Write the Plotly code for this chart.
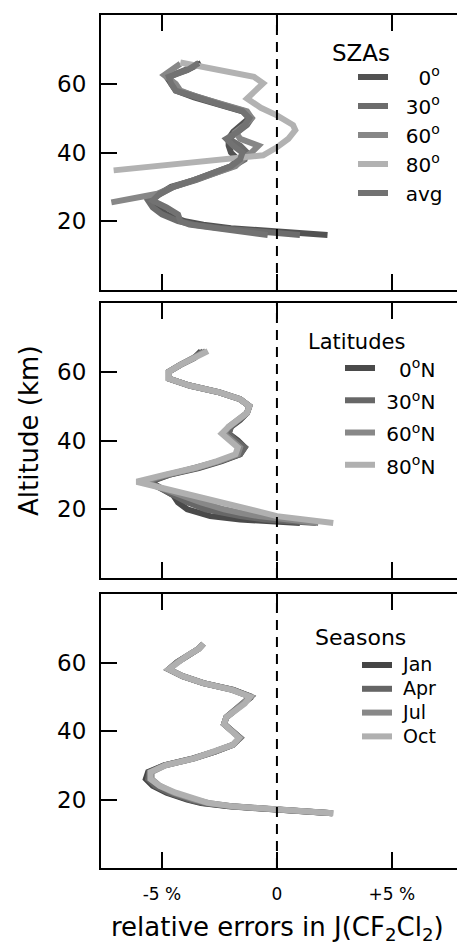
import plotly.graph_objects as go

# ---------------- data ----------------
# Panel 1: solar zenith angles
alt_sza = [16, 17, 18, 19, 20, 22, 24, 26, 28, 30, 32, 34, 36, 38, 40, 42, 44, 46, 48, 50, 52, 54, 56, 58, 60, 62, 64, 66]
sza_0 = [2.2, -0.3, -2.0, -3.2, -4.0, -4.8, -5.2, -5.5, -5.1, -4.6, -3.6, -2.8, -2.0, -1.7, -2.0, -2.1, -2.1, -1.9, -1.5, -1.2, -1.5, -2.6, -3.6, -4.4, -4.6, -4.8, -3.9, -3.3]
sza_30 = [1.0, -0.9, -2.5, -3.6, -4.3, -5.0, -5.4, -5.6, -5.0, -4.5, -3.5, -2.7, -1.9, -1.4, -1.3, -1.6, -2.1, -1.7, -1.3, -1.1, -1.4, -2.4, -3.4, -4.3, -4.5, -4.7, -4.0, -3.4]
sza_avg = [-0.4, -1.6, -2.9, -3.8, -4.2, -4.3, -4.8, -5.4, -5.1, -4.5, -3.6, -2.8, -2.0, -1.6, -1.5, -1.9, -2.2, -1.7, -1.4, -1.2, -1.5, -2.5, -3.5, -4.4, -4.6, -4.7, -3.9, -3.4]
alt_sza60 = [25.5, 28, 30, 32, 34, 36, 38, 40, 42, 44, 46, 48, 50, 52, 54, 56, 58, 60, 62.5, 65.8]
sza_60 = [-7.2, -5.2, -4.5, -3.5, -2.7, -1.8, -1.5, -1.1, -0.8, -1.6, -1.8, -1.4, -1.1, -1.3, -2.4, -3.4, -4.2, -4.4, -4.9, -4.2]
alt_sza80 = [34.8, 39.2, 41.5, 44, 46.5, 48, 50.8, 53, 55.7, 58, 60.1, 62.0, 64, 66.2]
sza_80 = [-7.1, -0.6, 0.0, 0.5, 0.8, 0.7, 0.0, -0.7, -1.3, -0.9, -0.6, -1.0, -2.6, -4.2]

# Panel 2: latitudes
alt_lat = [16, 17, 18, 19, 20, 22, 24, 26, 28, 30, 32, 34, 36, 38, 40, 42, 44, 46, 48, 50, 52, 54, 56, 58, 60, 62, 64, 66]
lat_0 = [1.0, -1.6, -2.9, -3.5, -3.9, -4.3, -4.5, -5.0, -5.5, -4.7, -3.4, -2.4, -1.6, -1.4, -1.7, -2.1, -2.0, -1.6, -1.3, -1.2, -1.6, -2.5, -3.8, -4.7, -4.7, -4.2, -3.6, -3.3]
lat_30 = [1.7, -0.5, -1.6, -2.5, -3.1, -3.9, -4.5, -5.1, -5.6, -4.7, -3.5, -2.5, -1.6, -1.4, -1.8, -2.1, -2.0, -1.6, -1.3, -1.2, -1.6, -2.5, -3.8, -4.7, -4.7, -4.2, -3.6, -3.2]
lat_60 = [1.8, 0.3, -0.8, -1.6, -2.3, -3.3, -4.1, -4.9, -5.8, -4.8, -3.5, -2.5, -1.7, -1.6, -2.0, -2.3, -2.1, -1.7, -1.3, -1.2, -1.6, -2.5, -3.8, -4.7, -4.7, -4.2, -3.6, -3.1]
lat_80 = [2.45, 1.0, 0.0, -0.6, -1.2, -2.5, -3.6, -4.8, -6.1, -4.9, -3.6, -2.6, -1.8, -1.7, -2.1, -2.4, -2.1, -1.7, -1.3, -1.2, -1.6, -2.5, -3.8, -4.7, -4.7, -4.2, -3.6, -3.0]

# Panel 3: seasons
alt_season = [16, 17, 18, 19, 20, 22, 24, 26, 28, 30, 32, 34, 36, 38, 40, 42, 44, 46, 48, 50, 52, 54, 56, 58, 60, 62, 64, 65.5]
season_jan = [2.4, -0.1, -2.1, -3.3, -3.9, -4.8, -5.4, -5.7, -5.6, -4.9, -3.65, -2.7, -1.9, -1.6, -2.0, -2.3, -2.2, -1.85, -1.4, -1.1, -1.9, -3.2, -4.1, -4.7, -4.35, -3.9, -3.4, -3.2]
season_apr = [2.4, -0.05, -2.0, -3.2, -3.8, -4.7, -5.3, -5.6, -5.55, -4.9, -3.6, -2.7, -1.9, -1.6, -2.0, -2.3, -2.2, -1.85, -1.4, -1.15, -1.9, -3.2, -4.1, -4.7, -4.35, -3.9, -3.4, -3.2]
season_jul = [2.45, 0.0, -1.9, -3.0, -3.6, -4.5, -5.1, -5.45, -5.45, -4.85, -3.6, -2.7, -1.9, -1.6, -2.0, -2.3, -2.2, -1.85, -1.4, -1.15, -1.95, -3.2, -4.1, -4.7, -4.35, -3.9, -3.4, -3.2]
season_oct = [2.45, 0.0, -1.9, -3.0, -3.5, -4.4, -5.1, -5.5, -5.5, -4.85, -3.6, -2.7, -1.9, -1.65, -2.0, -2.3, -2.2, -1.85, -1.4, -1.17, -1.95, -3.2, -4.1, -4.7, -4.35, -3.9, -3.4, -3.2]

x_tickvals = [-5, 0, 5]
x_ticktext = ["-5 %", "0", "+5 %"]
y_tickvals = [20, 40, 60]

# ---------------- figure ----------------
W, H = 457, 945
ML = 101
PW = W - ML
FONT = "DejaVu Sans"


def px_x(px):
    return (px - ML) / PW


def px_y(py):
    return 1 - py / H


panels = [(15, 290), (303, 578), (594, 868)]

fig = go.Figure()

NB = "\u00a0"


def add(x, y, name, color, p):
    sfx = "" if p == 1 else str(p)
    fig.add_trace(go.Scatter(
        x=x, y=y, mode="lines", name=name,
        line=dict(color=color, width=6),
        xaxis="x" + sfx, yaxis="y" + sfx, legend="legend" + sfx,
        hoverinfo="skip",
    ))


def lab(txt, size):
    return '<span style="font-size:%dpx">%s</span>' % (size, txt)


add(sza_0, alt_sza, NB * 4 + "0<sup>o</sup>", "#525252", 1)
add(sza_30, alt_sza, NB * 2 + "30<sup>o</sup>", "#6c6c6c", 1)
add(sza_60, alt_sza60, NB * 2 + "60<sup>o</sup>", "#878787", 1)
add(sza_80, alt_sza80, NB * 2 + "80<sup>o</sup>", "#b2b2b2", 1)
add(sza_avg, alt_sza, NB * 2 + "avg", "#727272", 1)

add(lat_0, alt_lat, lab(NB * 3 + "0<sup>o</sup>N", 20), "#4a4a4a", 2)
add(lat_30, alt_lat, lab(NB * 1 + "30<sup>o</sup>N", 20), "#676767", 2)
add(lat_60, alt_lat, lab(NB * 1 + "60<sup>o</sup>N", 20), "#888888", 2)
add(lat_80, alt_lat, lab(NB * 1 + "80<sup>o</sup>N", 20), "#b0b0b0", 2)

add(season_jan, alt_season, lab(NB + "Jan", 19), "#454545", 3)
add(season_apr, alt_season, lab(NB + "Apr", 19), "#656565", 3)
add(season_jul, alt_season, lab(NB + "Jul", 19), "#888888", 3)
add(season_oct, alt_season, lab(NB + "Oct", 19), "#b0b0b0", 3)

layout = dict(
    width=W, height=H,
    margin=dict(l=ML, r=0, t=0, b=0),
    paper_bgcolor="white", plot_bgcolor="white",
    font=dict(family=FONT, color="black"),
    showlegend=True,
    shapes=[], annotations=[],
)

for i, (top, bot) in enumerate(panels, start=1):
    sfx = "" if i == 1 else str(i)
    dom = [px_y(bot), px_y(top)]
    layout["xaxis" + sfx] = dict(
        domain=[0, 1], anchor="y" + sfx, range=[-7.65, 7.83],
        tickvals=x_tickvals, ticktext=x_ticktext, showticklabels=(i == 3),
        ticks="inside", ticklen=16, tickwidth=2, tickcolor="black",
        showline=True, linewidth=2, linecolor="black", mirror="ticks",
        showgrid=False, zeroline=False, fixedrange=True,
        tickfont=dict(family=FONT, size=17, color="black"), ticklabelstandoff=10,
    )
    layout["yaxis" + sfx] = dict(
        domain=dom, anchor="x" + sfx, range=[0, 80],
        tickvals=y_tickvals, ticks="inside", ticklen=16, tickwidth=2, tickcolor="black",
        showline=True, linewidth=2, linecolor="black", mirror=False,
        showgrid=False, zeroline=False, fixedrange=True,
        tickfont=dict(family=FONT, size=23, color="black"), ticklabelstandoff=8,
    )
    layout["yaxis" + str(i + 3)] = dict(
        overlaying="y" + sfx, anchor="x" + sfx, side="right", range=[0, 80],
        tickvals=y_tickvals, ticks="inside", ticklen=16, tickwidth=2, tickcolor="black",
        showline=False, showticklabels=False, showgrid=False, zeroline=False, fixedrange=True,
    )
    layout["shapes"].append(dict(
        type="line", xref="x" + sfx, yref="y" + sfx + " domain",
        x0=0, x1=0, y0=0, y1=1,
        line=dict(color="black", width=2, dash="10px,7px"),
    ))

# legends
leg_common = dict(xanchor="left", yanchor="top", bgcolor="rgba(0,0,0,0)",
                  borderwidth=0, itemwidth=30, tracegroupgap=0,
                  itemclick=False, itemdoubleclick=False)
layout["legend"] = dict(leg_common, x=px_x(353), y=px_y(77 - 5 - 14.5),
                        font=dict(family=FONT, size=20, color="black"))
layout["legend2"] = dict(leg_common, x=px_x(340), y=px_y(368 - 5 - 16.1),
                         font=dict(family=FONT, size=22.5, color="black"))
layout["legend3"] = dict(leg_common, x=px_x(357), y=px_y(665 - 5 - 11.9),
                         font=dict(family=FONT, size=16, color="black"))

# legend titles
for txt, lx, cy, fs in [("SZAs", 330, 53, 23), ("Latitudes", 306, 342, 21), ("Seasons", 313, 637, 22)]:
    layout["annotations"].append(dict(
        text=txt, x=px_x(lx), y=px_y(cy), xref="paper", yref="paper",
        xanchor="left", yanchor="middle", showarrow=False,
        font=dict(family=FONT, size=fs, color="black"),
    ))

# axis titles
layout["annotations"].append(dict(
    text="Altitude (km)", x=px_x(29), y=px_y(431), xref="paper", yref="paper",
    xanchor="center", yanchor="middle", showarrow=False, textangle=-90,
    font=dict(family=FONT, size=26, color="black"),
))
layout["annotations"].append(dict(
    text="relative errors in J(CF<sub>2</sub>Cl<sub>2</sub>)", x=px_x(277), y=px_y(928),
    xref="paper", yref="paper", xanchor="center", yanchor="middle", showarrow=False,
    font=dict(family=FONT, size=26, color="black"),
))

fig.update_layout(**layout)
fig.write_html("out.html", config={"displayModeBar": False})
